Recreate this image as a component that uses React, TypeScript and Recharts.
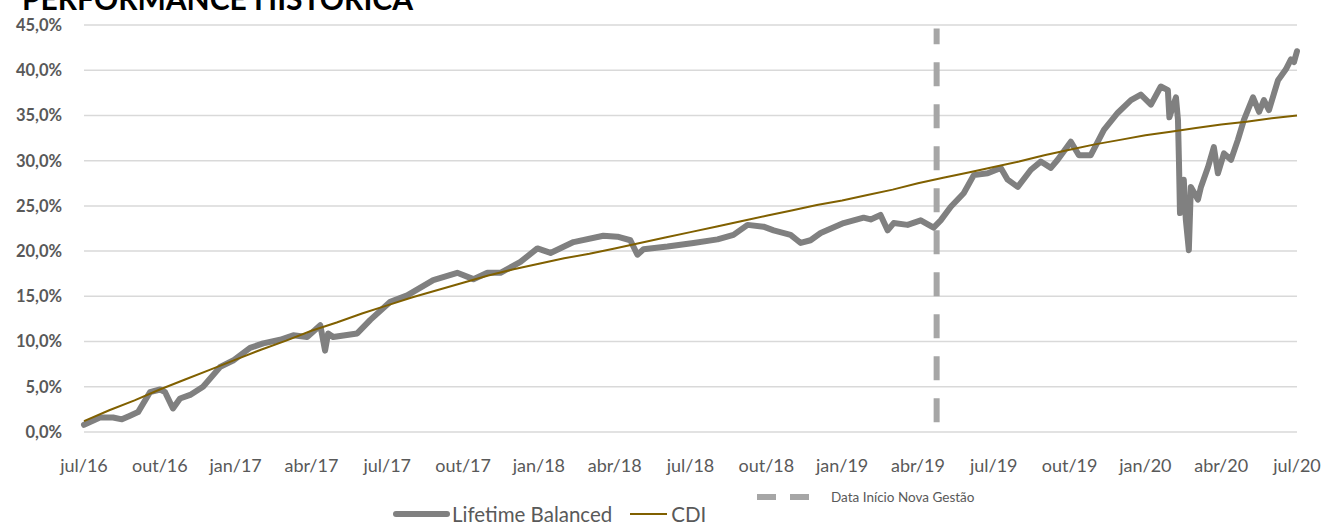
import { LineChart, Line, XAxis, YAxis, CartesianGrid, ReferenceLine } from 'recharts';

// months since jul/16
const monthTicks = [0, 3, 6, 9, 12, 15, 18, 21, 24, 27, 30, 33, 36, 39, 42, 45, 48];
const monthLabels = [
  'jul/16', 'out/16', 'jan/17', 'abr/17', 'jul/17', 'out/17', 'jan/18', 'abr/18', 'jul/18',
  'out/18', 'jan/19', 'abr/19', 'jul/19', 'out/19', 'jan/20', 'abr/20', 'jul/20',
];
const yTicks = [0, 5, 10, 15, 20, 25, 30, 35, 40, 45];

const lifetimeT = [
  0, 0.63, 1.15, 1.5, 1.82, 2.14, 2.61, 3.01, 3.21, 3.52, 3.8, 4.2, 4.71, 5.39, 5.9, 6.57, 7.09,
  7.76, 8.28, 8.83, 9.35, 9.54, 9.66, 9.86, 10.81, 11.33, 12.12, 12.79, 13.82, 14.77, 15.41, 15.96,
  16.48, 17.27, 17.94, 18.46, 19.37, 20.55, 21.11, 21.62, 21.9, 22.14, 23.09, 24.12, 25.07, 25.7,
  26.26, 26.89, 27.29, 27.96, 28.36, 28.75, 29.15, 30.06, 30.85, 31.13, 31.52, 31.8, 32.04, 32.59,
  33.11, 33.62, 33.9, 34.3, 34.81, 35.21, 35.76, 36.28, 36.55, 36.95, 37.47, 37.86, 38.26, 38.53,
  39.05, 39.37, 39.84, 40.36, 40.91, 41.43, 41.82, 42.22, 42.61, 42.89, 42.95, 43.21, 43.29, 43.33,
  43.37, 43.52, 43.6, 43.72, 43.8, 44.08, 44.2, 44.48, 44.71, 44.87, 45.11, 45.39, 45.66, 45.9,
  46.26, 46.5, 46.69, 46.89, 47.25, 47.56, 47.76, 47.88, 48,
];
const lifetimeV = [
  0.8, 1.6, 1.6, 1.4, 1.8, 2.2, 4.4, 4.7, 4.4, 2.6, 3.7, 4.1, 5.0, 7.2, 7.9, 9.3, 9.8,
  10.2, 10.7, 10.5, 11.8, 9.0, 10.9, 10.5, 10.9, 12.4, 14.4, 15.1, 16.8, 17.6, 16.9, 17.6,
  17.6, 18.8, 20.3, 19.8, 21.0, 21.7, 21.6, 21.2, 19.6, 20.2, 20.5, 20.9, 21.3, 21.8,
  22.9, 22.7, 22.3, 21.8, 20.9, 21.2, 22.0, 23.1, 23.7, 23.5, 24.0, 22.3, 23.1, 22.9,
  23.4, 22.6, 23.4, 24.9, 26.4, 28.4, 28.6, 29.2, 27.9, 27.1, 29.0, 29.9, 29.2, 30.1,
  32.1, 30.6, 30.6, 33.4, 35.3, 36.7, 37.3, 36.2, 38.2, 37.8, 34.8, 37.0, 34.5, 29.8,
  24.2, 27.9, 23.5, 20.1, 27.1, 25.7, 27.1, 29.3, 31.5, 28.6, 30.8, 30.1, 32.3, 34.5,
  37.0, 35.4, 36.7, 35.6, 38.9, 40.1, 41.2, 40.9, 42.1,
];

const cdiT = [
  0, 1, 2, 3, 4, 5, 6, 7, 8, 9, 10, 11, 12, 13, 14, 15, 16, 17, 18, 19, 20, 21, 22, 23, 24,
  25, 26, 27, 28, 29, 30, 31, 32, 33, 34, 35, 36, 37, 38, 39, 40, 41, 42, 43, 44, 45, 46, 47, 48,
];
const cdiV = [
  1.2, 2.4, 3.5, 4.7, 5.8, 6.9, 8.0, 9.1, 10.1, 11.2, 12.1, 13.1, 14.0, 14.9, 15.7, 16.5, 17.3,
  18.0, 18.6, 19.2, 19.7, 20.3, 20.9, 21.5, 22.1, 22.7, 23.3, 23.9, 24.5, 25.1, 25.6, 26.2, 26.8,
  27.5, 28.1, 28.7, 29.3, 29.9, 30.6, 31.2, 31.8, 32.3, 32.8, 33.2, 33.6, 34.0, 34.3, 34.7, 35.0,
];

// start of new management (abr/19)
const novaGestaoT = 33.74;

const lifetimeData = lifetimeT.map((t, i) => ({ t, v: lifetimeV[i] }));
const cdiData = cdiT.map((t, i) => ({ t, v: cdiV[i] }));

const FONT = 'Lato, "Open Sans", sans-serif';
const fmtPct = (v: number) => `${v.toFixed(1).replace('.', ',')}%`;
const fmtMonth = (t: number) => monthLabels[monthTicks.indexOf(t)] ?? '';

export default function App() {
  return (
    <div style={{ position: 'absolute', left: 0, top: 0, width: 1326, height: 525, background: '#fff', overflow: 'hidden', fontFamily: FONT }}>
      <div style={{ position: 'absolute', left: 22, top: -17, fontSize: 30, fontWeight: 700, lineHeight: 1, color: '#000', whiteSpace: 'nowrap' }}>
        PERFORMANCE HISTÓRICA
      </div>
      <LineChart width={1326} height={525} data={cdiData} margin={{ top: 25, right: 29, bottom: 0, left: 0 }}>
        <CartesianGrid vertical={false} stroke="#d9d9d9" strokeWidth={1.5} />
        <XAxis
          dataKey="t"
          type="number"
          domain={[0, 48]}
          ticks={monthTicks}
          tickFormatter={fmtMonth}
          axisLine={false}
          tickLine={false}
          tickMargin={21}
          height={93}
          interval={0}
          tick={{ fill: '#595959', fontSize: 18, fontFamily: FONT }}
        />
        <YAxis
          type="number"
          domain={[0, 45]}
          ticks={yTicks}
          tickFormatter={fmtPct}
          axisLine={false}
          tickLine={false}
          tickMargin={16}
          width={84}
          interval={0}
          tick={{ fill: '#595959', fontSize: 16.5, fontWeight: 700, fontFamily: FONT }}
        />
        <ReferenceLine
          segment={[{ x: novaGestaoT, y: 1.07 }, { x: novaGestaoT, y: 44.6 }]}
          stroke="#a6a6a6"
          strokeWidth={6}
          strokeDasharray="24 18"
        />
        <Line
          data={lifetimeData}
          dataKey="v"
          type="linear"
          stroke="#808080"
          strokeWidth={6}
          strokeLinejoin="round"
          strokeLinecap="round"
          dot={false}
          isAnimationActive={false}
        />
        <Line
          data={cdiData}
          dataKey="v"
          type="linear"
          stroke="#806000"
          strokeWidth={2}
          dot={false}
          isAnimationActive={false}
        />
      </LineChart>
      <div style={{ position: 'absolute', left: 393, top: 502, display: 'flex', alignItems: 'center', fontSize: 20.5, color: '#595959' }}>
        <span style={{ display: 'inline-block', width: 57, height: 6, borderRadius: 3, background: '#808080', marginRight: 2 }} />
        <span>Lifetime Balanced</span>
        <span style={{ display: 'inline-block', width: 37, height: 2, background: '#806000', marginLeft: 18, marginRight: 4 }} />
        <span>CDI</span>
      </div>
      <div style={{ position: 'absolute', left: 757, top: 489, display: 'flex', alignItems: 'center', fontSize: 13.5, color: '#595959' }}>
        <span style={{ display: 'inline-block', width: 19, height: 6, background: '#a6a6a6', marginRight: 14 }} />
        <span style={{ display: 'inline-block', width: 19, height: 6, background: '#a6a6a6', marginRight: 22 }} />
        <span>Data Início Nova Gestão</span>
      </div>
    </div>
  );
}
